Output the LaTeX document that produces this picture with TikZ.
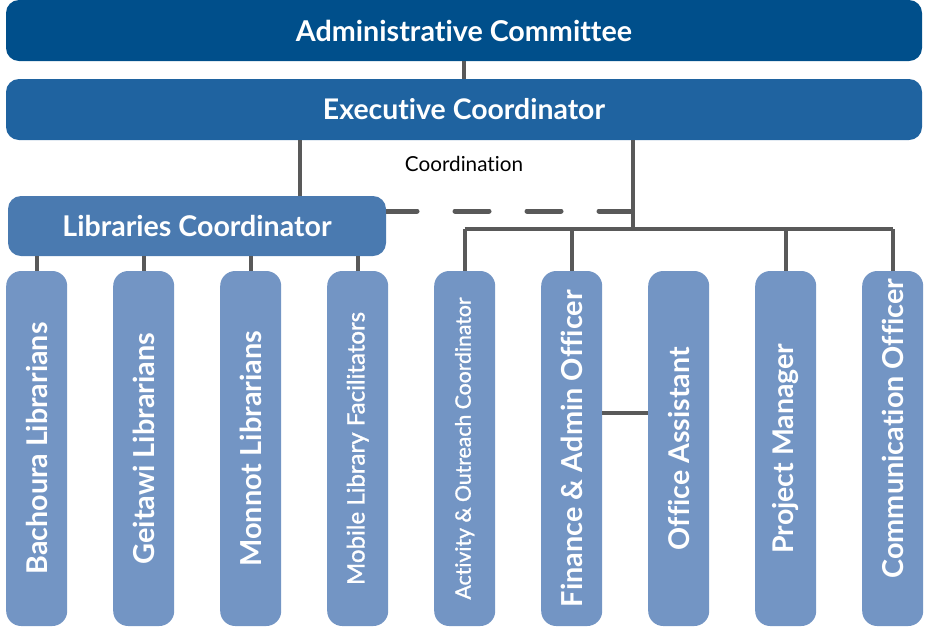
\documentclass[tikz,border=0pt]{standalone}
\usepackage{fontspec}
\setmainfont[Ligatures=NoCommon]{Lato}
\newfontfamily\medfont[Ligatures=NoCommon, FakeBold=1.2]{Lato}
\usepackage{graphicx}
\definecolor{cadmin}{HTML}{004F8B}
\definecolor{cexec}{HTML}{1F63A0}
\definecolor{clib}{HTML}{4A7AB0}
\definecolor{cstaff}{HTML}{7395C4}
\definecolor{cline}{HTML}{595959}
\newcommand\fitw[2]{\resizebox{#1}{!}{#2}}
\tikzset{
  widebox/.style={rounded corners=13pt, inner sep=0pt, text=white, font=\bfseries},
  staffbox/.style={rotate=90, fill=cstaff, rounded corners=15pt, inner sep=0pt,
    minimum width=355pt, minimum height=61pt, text=white, font=\bfseries},
  staffthin/.style={staffbox, font=\medfont},
  conn/.style={draw=cline, line width=4pt},
  dashconn/.style={draw=cline, line width=5pt, line cap=round, dash pattern=on 34pt off 38pt},
}
\begin{document}
\begin{tikzpicture}[x=1pt,y=-1pt]
\useasboundingbox (0,0) rectangle (926,630);
% top boxes
\node[widebox, fill=cadmin, minimum width=916pt, minimum height=61pt] (admin) at (464,30.5)
  {\fitw{336pt}{Administrative Committee}};
\node[widebox, fill=cexec, minimum width=916pt, minimum height=61pt] (exec) at (464,109.5)
  {\fitw{282pt}{Executive Coordinator}};
\node[widebox, fill=clib, minimum width=378pt, minimum height=60pt] (lib) at (197,226)
  {\fitw{269pt}{Libraries Coordinator}};
\node[font=\mdseries, text=black] (coord) at (464,164) {\fitw{118pt}{Coordination}};
% staff boxes
\node[staffbox]  (bach) at (36.7,448.5)  {\fitw{252pt}{Bachoura Librarians}};
\node[staffbox]  (geit) at (143.7,448.5) {\fitw{232pt}{Geitawi Librarians}};
\node[staffbox]  (monn) at (250.7,448.5) {\fitw{236pt}{Monnot Librarians}};
\node[staffthin] (mobi) at (357.7,448.5) {\fitw{273pt}{Mobile Library Facilitators}};
\node[staffthin] (acti) at (464.7,448.5) {\fitw{302pt}{Activity \& Outreach Coordinator}};
\node[staffbox]  (fina) at (571.7,448.5) {\fitw{317pt}{Finance \& Admin Officer}};
\node[staffbox]  (offi) at (678.7,448.5) {\fitw{203pt}{Office Assistant}};
\node[staffbox]  (proj) at (785.7,448.5) {\fitw{210pt}{Project Manager}};
\node[staffbox]  (comm) at (892.7,448.5) {\hspace{40pt}\fitw{300pt}{Communication Officer}};
% helper coordinates
\coordinate (jl) at (300,0);
\coordinate (tr) at (633,229);
\coordinate (dy) at (0,211);
\coordinate (fo) at (0,413);
% connectors
\draw[conn] (admin.south) -- (exec.north);
\draw[conn] (exec.south -| jl) -- (lib.north -| jl);
\draw[conn] (exec.south -| tr) -- (tr);
\draw[conn] (acti.east |- tr) -- (comm.east |- tr);
\foreach \n in {acti,fina,proj,comm} {
  \draw[conn] (\n.east |- tr) -- (\n.east);
}
\foreach \n in {bach,geit,monn,mobi} {
  \draw[conn] (\n.east |- lib.south) -- (\n.east);
}
\draw[conn] (fina.south |- fo) -- (offi.north |- fo);
\begin{scope}
\clip (lib.east |- 0,190) rectangle (tr |- 0,230);
\draw[dashconn] (tr |- dy) -- ([xshift=-40pt]lib.east |- dy);
\end{scope}
\end{tikzpicture}
\end{document}
